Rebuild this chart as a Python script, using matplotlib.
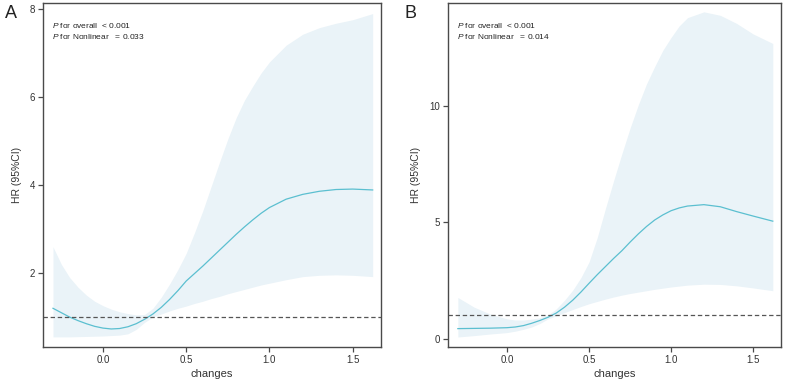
import numpy as np
import matplotlib
matplotlib.use("Agg")
import matplotlib.pyplot as plt

plt.rcParams['font.family'] = ['Liberation Sans', 'DejaVu Sans']
plt.rcParams['mathtext.fontset'] = 'custom'
plt.rcParams['mathtext.it'] = 'Liberation Sans:italic'
plt.rcParams['mathtext.rm'] = 'Liberation Sans'

# ---- Panel A data ----
a_x = [-0.30, -0.25, -0.20, -0.15, -0.10, -0.05, 0.00, 0.05, 0.10, 0.15, 0.20, 0.25,
       0.30, 0.35, 0.40, 0.45, 0.50, 0.55, 0.60, 0.65, 0.70, 0.75, 0.80, 0.85, 0.90,
       0.95, 1.00, 1.10, 1.20, 1.30, 1.40, 1.50, 1.62]
a_hr = [1.20, 1.10, 1.00, 0.92, 0.85, 0.79, 0.75, 0.73, 0.74, 0.78, 0.85, 0.95,
        1.07, 1.22, 1.40, 1.60, 1.82, 1.99, 2.16, 2.34, 2.52, 2.70, 2.88, 3.05, 3.21,
        3.36, 3.49, 3.68, 3.79, 3.86, 3.90, 3.91, 3.89]
a_upper = [2.60, 2.20, 1.90, 1.68, 1.50, 1.36, 1.26, 1.18, 1.12, 1.08, 1.05, 1.06,
           1.20, 1.45, 1.75, 2.08, 2.45, 2.92, 3.42, 3.97, 4.52, 5.05, 5.53, 5.93, 6.25,
           6.55, 6.80, 7.18, 7.43, 7.58, 7.68, 7.76, 7.90]
a_lower = [0.55, 0.55, 0.55, 0.555, 0.56, 0.565, 0.57, 0.58, 0.59, 0.62, 0.72, 0.88,
           1.00, 1.07, 1.14, 1.20, 1.25, 1.31, 1.36, 1.42, 1.47, 1.53, 1.58, 1.63, 1.68,
           1.73, 1.77, 1.85, 1.92, 1.95, 1.96, 1.95, 1.92]

# ---- Panel B data ----
b_x = [-0.30, -0.20, -0.10, 0.00, 0.05, 0.10, 0.15, 0.20, 0.25, 0.30, 0.35, 0.40,
       0.45, 0.50, 0.55, 0.60, 0.65, 0.70, 0.75, 0.80, 0.85, 0.90, 0.95, 1.00, 1.05,
       1.10, 1.20, 1.30, 1.40, 1.50, 1.62]
b_hr = [0.43, 0.44, 0.45, 0.47, 0.50, 0.56, 0.66, 0.78, 0.92, 1.10, 1.35, 1.65,
        2.00, 2.38, 2.75, 3.10, 3.45, 3.78, 4.15, 4.50, 4.82, 5.10, 5.32, 5.50, 5.62,
        5.70, 5.76, 5.67, 5.46, 5.27, 5.05]
b_upper = [1.77, 1.35, 1.05, 0.85, 0.80, 0.80, 0.84, 0.90, 1.02, 1.28, 1.65, 2.08,
           2.62, 3.30, 4.35, 5.60, 6.80, 7.95, 9.05, 10.05, 10.95, 11.70, 12.40, 12.95, 13.45,
           13.80, 14.05, 13.90, 13.55, 13.10, 12.69]
b_lower = [0.07, 0.13, 0.20, 0.26, 0.32, 0.40, 0.50, 0.65, 0.85, 0.98, 1.12, 1.25,
           1.38, 1.50, 1.60, 1.70, 1.79, 1.87, 1.94, 2.00, 2.06, 2.12, 2.17, 2.22, 2.26,
           2.30, 2.34, 2.33, 2.27, 2.18, 2.06]

x_ticks = [0.0, 0.5, 1.0, 1.5]
x_ticklabels = ["0.0", "0.5", "1.0", "1.5"]
a_yticks = [2, 4, 6, 8]
b_yticks = [0, 5, 10]
a_ptext = ["$P$ for overall  < 0.001", "$P$ for Nonlinear   = 0.033"]
b_ptext = ["$P$ for overall  < 0.001", "$P$ for Nonlinear   = 0.014"]

W, H = 786, 379
fig = plt.figure(figsize=(W / 100, H / 100), dpi=100)

line_c = '#5bbfd0'
band_c = '#eaf3f8'
spine_c = '#4a4a4a'


def panel(rect, x, hr, lo, up, yticks, ylim, ptext, letter, letter_x):
    ax = fig.add_axes(rect)
    ax.fill_between(x, lo, up, color=band_c, lw=0)
    ax.plot(x, hr, color=line_c, lw=0.9)
    ax.axhline(1, color='#555555', lw=0.9, ls=(0, (3.5, 2.2)))
    ax.set_xlim(-0.36, 1.67)
    ax.set_ylim(*ylim)
    ax.set_xticks(x_ticks)
    ax.set_xticklabels(x_ticklabels)
    ax.set_yticks(yticks)
    for s in ax.spines.values():
        s.set_color(spine_c)
        s.set_linewidth(1.0)
    ax.tick_params(direction='out', length=3.5, width=0.9, colors=spine_c,
                   labelsize=7, labelcolor='#333333', pad=2)
    ax.set_xlabel('changes', fontsize=8, color='#333333', labelpad=3)
    ax.set_ylabel('HR (95%CI)', fontsize=7.5, color='#333333', labelpad=6)
    ax.text(0.027, 0.935, ptext[0], transform=ax.transAxes, fontsize=6,
            color='#222222', va='center', ha='left')
    ax.text(0.027, 0.903, ptext[1], transform=ax.transAxes, fontsize=6,
            color='#222222', va='center', ha='left')
    fig.text(letter_x / W, 1 - 14 / H, letter, fontsize=13, color='#222222',
             ha='left', va='center')
    return ax


bot = (H - 347) / H
hgt = (347 - 3) / H
panel([43 / W, bot, (381 - 43) / W, hgt], a_x, a_hr, a_lower, a_upper,
      a_yticks, (0.32, 8.14), a_ptext, 'A', 5)
panel([448 / W, bot, (781 - 448) / W, hgt], b_x, b_hr, b_lower, b_upper,
      b_yticks, (-0.36, 14.43), b_ptext, 'B', 405)

fig.savefig('out.png', dpi=100)
